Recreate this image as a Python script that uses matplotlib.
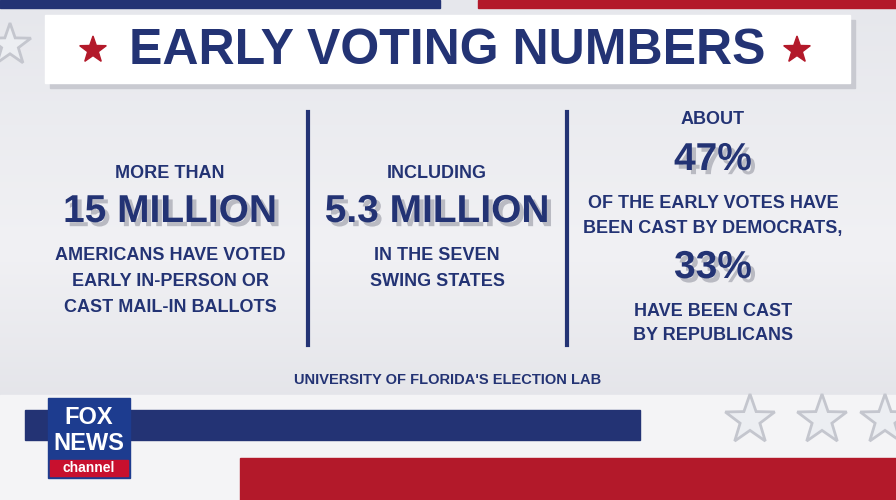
import matplotlib
matplotlib.use("Agg")
import matplotlib.pyplot as plt
import matplotlib.patheffects as pe
from matplotlib.patches import Rectangle, Polygon
import numpy as np

title = "EARLY VOTING NUMBERS"
col1_lines = ["MORE THAN", "15 MILLION", "AMERICANS HAVE VOTED", "EARLY IN-PERSON OR", "CAST MAIL-IN BALLOTS"]
col2_lines = ["INCLUDING", "5.3 MILLION", "IN THE SEVEN", "SWING STATES"]
col3_lines = ["ABOUT", "47%", "OF THE EARLY VOTES HAVE", "BEEN CAST BY DEMOCRATS,", "33%", "HAVE BEEN CAST", "BY REPUBLICANS"]
big_items = {"15 MILLION", "5.3 MILLION", "47%", "33%"}
source = "UNIVERSITY OF FLORIDA'S ELECTION LAB"

NAVY = "#233374"
RED = "#b3192a"
FONT = "Liberation Sans"

fig = plt.figure(figsize=(8.96, 5), dpi=100)
ax = fig.add_axes([0, 0, 1, 1])
ax.set_xlim(0, 896); ax.set_ylim(500, 0); ax.axis("off")

grad = np.linspace(0, 1, 256).reshape(-1, 1)
ax.imshow(grad, extent=(0, 896, 500, 0), cmap=matplotlib.colors.LinearSegmentedColormap.from_list("g", ["#e6e7ec", "#f1f1f4", "#dcdde3"]), aspect="auto", zorder=0)

ax.add_patch(Rectangle((0, 0), 440, 8, color=NAVY, zorder=1))
ax.add_patch(Rectangle((478, 0), 418, 8, color=RED, zorder=1))

ax.add_patch(Rectangle((50, 20), 805, 68, color="#c9cad1", zorder=1))
ax.add_patch(Rectangle((45, 15), 805, 68, color="white", zorder=2))
ax.text(447, 51, title, ha="center", va="center", fontsize=36, fontweight="bold", color=NAVY, family=FONT, zorder=3)

def star(cx, cy, r, **kw):
    pts = []
    for i in range(10):
        rr = r if i % 2 == 0 else r * 0.4
        a = np.pi / 2 + i * np.pi / 5
        pts.append((cx + rr * np.cos(a), cy - rr * np.sin(a)))
    ax.add_patch(Polygon(pts, closed=True, **kw))

star(93, 50, 14, color=RED, zorder=3)
star(797, 50, 14, color=RED, zorder=3)

for x in (308, 567):
    ax.plot([x, x], [112, 345], color=NAVY, lw=3, zorder=3)

shadow = [pe.SimplePatchShadow(offset=(3, -3), shadow_rgbFace="#b9bac2", alpha=1), pe.Normal()]

def column(cx, lines, ys):
    for t, y in zip(lines, ys):
        if t in big_items:
            ax.text(cx, y, t, ha="center", va="center", fontsize=28, fontweight="bold", color=NAVY, family=FONT, zorder=4, path_effects=shadow)
        else:
            ax.text(cx, y, t, ha="center", va="center", fontsize=13, fontweight="bold", color=NAVY, family=FONT, zorder=4)

column(170, col1_lines, [173, 212, 256, 282, 307])
column(437, col2_lines, [173, 212, 256, 282])
column(713, col3_lines, [120, 160, 203, 228, 268, 311, 336])

ax.text(448, 380, source, ha="center", va="center", fontsize=10.5, fontweight="bold", color=NAVY, family=FONT, zorder=4)

ax.add_patch(Rectangle((0, 395), 896, 105, color="#f4f4f6", zorder=1))
ax.add_patch(Rectangle((25, 410), 615, 30, color=NAVY, zorder=2))
ax.add_patch(Rectangle((240, 458), 656, 42, color=RED, zorder=2))
for cx in (750, 822, 885):
    star(cx, 420, 26, facecolor="#eceef2", edgecolor="#c4c6ce", lw=2, zorder=2)
star(10, 45, 22, facecolor="#eceef2", edgecolor="#c4c6ce", lw=2, zorder=1)

ax.add_patch(Rectangle((48, 398), 82, 80, color="#1d3c8f", zorder=5))
ax.text(89, 417, "FOX", ha="center", va="center", fontsize=17, fontweight="bold", color="white", family=FONT, zorder=6)
ax.text(89, 443, "NEWS", ha="center", va="center", fontsize=17, fontweight="bold", color="white", family=FONT, zorder=6)
ax.add_patch(Rectangle((50, 460), 78, 16, color="#c8102e", zorder=6))
ax.text(89, 468, "channel", ha="center", va="center", fontsize=10, fontweight="bold", color="white", family=FONT, zorder=7)

fig.savefig("out.png", dpi=100)
